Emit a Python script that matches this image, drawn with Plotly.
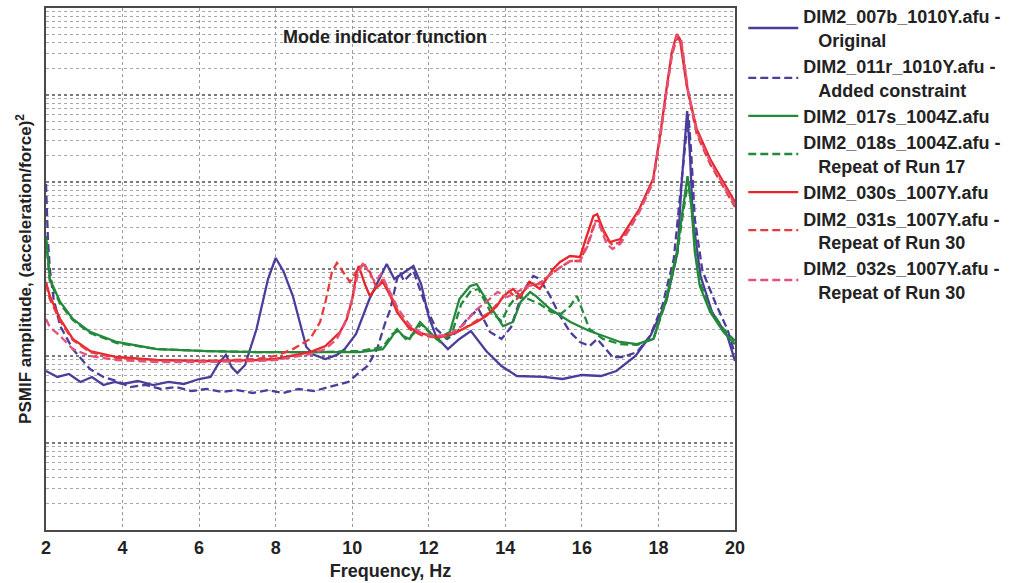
import plotly.graph_objects as go

# Frequency (Hz) and PSMIF amplitude for each run
f_007b = [2.0, 2.3, 2.6, 2.9, 3.2, 3.5, 3.8, 4.0, 4.4, 4.8, 5.2, 5.6, 6.0, 6.3, 6.5, 6.7, 6.85, 7.0, 7.2,
          7.5, 7.8, 8.0, 8.2, 8.45, 8.8, 9.0, 9.3, 9.6, 9.8, 10.1, 10.45, 10.9, 11.1, 11.3, 11.6, 11.8,
          12.0, 12.2, 12.5, 12.8, 13.1, 13.5, 13.9, 14.3, 15.0, 15.5, 16.0, 16.5, 16.9, 17.4, 17.8,
          18.2, 18.5, 18.6, 18.7, 18.75, 18.82, 18.9, 19.1, 19.4, 19.8, 20.0]
a_007b = [0.0672, 0.0574, 0.0621, 0.0503, 0.0574, 0.0464, 0.0503, 0.0477, 0.0516, 0.0464, 0.0503,
          0.0477, 0.0544, 0.0574, 0.0809, 0.103, 0.0747, 0.0637, 0.0788, 0.204, 0.767, 1.338, 0.95,
          0.489, 0.127, 0.103, 0.0924, 0.103, 0.120, 0.179, 0.452, 1.142, 0.767, 0.876, 1.083, 0.672,
          0.281, 0.165, 0.120, 0.157, 0.194, 0.114, 0.0767, 0.0589, 0.0574, 0.0544, 0.0605, 0.0589,
          0.0672, 0.100, 0.174, 0.418, 1.567, 8.99, 33.8, 65.5, 22.1, 3.755, 0.830, 0.320, 0.170, 0.0876]

f_011r = [2.0, 2.05, 2.1, 2.2, 2.37, 2.7, 3.15, 3.5, 3.85, 4.2, 4.6, 5.0, 5.4, 5.8, 6.2, 6.6, 7.0, 7.4,
          7.8, 8.2, 8.6, 9.0, 9.4, 9.9, 10.2, 10.4, 10.65, 10.85, 11.0, 11.17, 11.25, 11.35, 11.6, 11.77,
          11.95, 12.2, 12.48, 12.74, 13.0, 13.3, 13.6, 13.9, 14.15, 14.45, 14.73, 14.9, 15.17, 15.43,
          15.69, 15.95, 16.2, 16.4, 16.55, 16.8, 17.07, 17.44, 17.78, 18.1, 18.4, 18.55, 18.7, 18.78,
          18.85, 18.95, 19.15, 19.5, 19.8, 20.0]
a_011r = [9.48, 2.21, 1.0, 0.452, 0.221, 0.120, 0.0709, 0.0574, 0.0516, 0.0440, 0.0464, 0.0418, 0.0440,
          0.0396, 0.0418, 0.0386, 0.0406, 0.0376, 0.0406, 0.0376, 0.0418, 0.0396, 0.0440, 0.0503, 0.0655,
          0.0767, 0.120, 0.233, 0.347, 0.767, 0.924, 0.728, 0.948, 0.589, 0.347, 0.204, 0.157, 0.189,
          0.266, 0.347, 0.189, 0.157, 0.215, 0.544, 0.830, 0.767, 0.489, 0.288, 0.189, 0.145, 0.130,
          0.157, 0.130, 0.0974, 0.0974, 0.111, 0.170, 0.376, 1.303, 6.37, 27.3, 60.5, 23.9, 3.76, 0.948,
          0.396, 0.204, 0.105]

f_017s = [2.0, 2.1, 2.37, 2.7, 3.15, 3.85, 4.9, 6.2, 7.5, 9.0, 10.2, 10.8, 11.0, 11.17, 11.33, 11.5,
          11.77, 11.95, 12.2, 12.55, 12.8, 13.08, 13.25, 13.6, 13.94, 14.2, 14.4, 14.65, 14.8, 15.17,
          15.7, 16.2, 16.55, 17.0, 17.44, 17.87, 18.22, 18.48, 18.65, 18.76, 18.86, 18.95, 19.08, 19.35,
          19.7, 20.0]
a_017s = [2.394, 0.767, 0.418, 0.266, 0.189, 0.145, 0.120, 0.114, 0.111, 0.111, 0.111, 0.120, 0.157,
          0.204, 0.170, 0.157, 0.246, 0.204, 0.157, 0.189, 0.452, 0.637, 0.672, 0.376, 0.221, 0.246,
          0.418, 0.544, 0.489, 0.347, 0.246, 0.194, 0.170, 0.145, 0.137, 0.157, 0.489, 1.567, 5.30,
          11.7, 5.30, 1.567, 0.637, 0.320, 0.189, 0.137]

f_018s = [2.0, 2.1, 2.37, 2.7, 3.15, 3.85, 4.9, 6.2, 7.5, 9.0, 10.2, 10.8, 11.05, 11.2, 11.4, 11.6, 11.8,
          12.0, 12.3, 12.6, 12.85, 13.1, 13.3, 13.6, 13.9, 14.1, 14.3, 14.6, 14.9, 15.2, 15.45, 15.7,
          15.87, 16.0, 16.2, 16.55, 17.0, 17.44, 17.87, 18.22, 18.48, 18.65, 18.78, 18.88, 18.98, 19.1,
          19.35, 19.7, 20.0]
a_018s = [2.21, 0.728, 0.396, 0.259, 0.184, 0.141, 0.120, 0.114, 0.111, 0.111, 0.114, 0.127, 0.179,
          0.194, 0.157, 0.179, 0.233, 0.189, 0.145, 0.179, 0.396, 0.558, 0.589, 0.329, 0.2525, 0.376,
          0.489, 0.452, 0.396, 0.320, 0.304, 0.376, 0.489, 0.347, 0.204, 0.157, 0.137, 0.134, 0.157,
          0.452, 1.41, 4.64, 10.2, 4.64, 1.41, 0.672, 0.347, 0.204, 0.149]

f_030s = [2.0, 2.1, 2.37, 2.7, 3.15, 3.85, 4.9, 6.2, 7.5, 8.0, 8.9, 9.3, 9.68, 9.86, 10.0, 10.12, 10.17,
          10.33, 10.46, 10.6, 10.8, 11.0, 11.17, 11.45, 11.7, 12.03, 12.3, 12.74, 13.25, 13.5, 13.78,
          13.95, 14.2, 14.4, 14.64, 14.9, 15.25, 15.43, 15.69, 15.95, 16.1, 16.3, 16.4, 16.55, 16.73,
          17.0, 17.25, 17.5, 17.86, 18.04, 18.22, 18.35, 18.48, 18.56, 18.74, 19.0, 19.35, 19.69, 20.0]
a_030s = [0.709, 0.489, 0.266, 0.157, 0.114, 0.0974, 0.0899, 0.0876, 0.0899, 0.0924, 0.111, 0.130,
          0.189, 0.266, 0.452, 0.924, 1.083, 0.672, 0.489, 0.589, 0.709, 0.489, 0.320, 0.221, 0.189,
          0.170, 0.165, 0.189, 0.246, 0.288, 0.376, 0.489, 0.589, 0.489, 0.709, 0.589, 1.0, 1.204,
          1.41, 1.374, 2.21, 4.064, 4.285, 2.882, 2.044, 2.21, 3.289, 4.892, 10.83, 33.8, 126.9, 311.9,
          502.5, 440.0, 126.9, 40.6, 18.4, 10.0, 5.888]

f_031s = [2.0, 2.1, 2.37, 2.7, 3.15, 3.85, 4.9, 6.2, 7.5, 8.0, 8.45, 8.9, 9.16, 9.3, 9.47, 9.6, 9.76,
          9.94, 10.1, 10.28, 10.46, 10.65, 10.8, 11.0, 11.25, 11.5, 11.8, 12.1, 12.5, 12.9, 13.3, 13.6,
          13.9, 14.1, 14.3, 14.6, 14.85, 15.2, 15.45, 15.7, 15.95, 16.15, 16.35, 16.45, 16.65, 16.8,
          17.0, 17.25, 17.5, 17.86, 18.04, 18.22, 18.35, 18.48, 18.6, 18.78, 19.0, 19.35, 19.69, 20.0]
a_031s = [0.672, 0.452, 0.2525, 0.153, 0.111, 0.0948, 0.0876, 0.0876, 0.0924, 0.100, 0.120, 0.157,
          0.246, 0.418, 0.924, 1.172, 0.924, 0.709, 0.924, 1.142, 0.924, 0.589, 0.767, 0.489, 0.288,
          0.204, 0.174, 0.165, 0.170, 0.204, 0.266, 0.320, 0.452, 0.558, 0.452, 0.637, 0.672, 0.876,
          1.054, 1.236, 1.236, 1.939, 3.562, 3.56, 2.21, 1.887, 2.044, 3.039, 4.642, 10.0, 31.2, 117.2,
          280.8, 464.2, 385.7, 102.7, 35.6, 16.1, 8.76, 5.16]

f_032s = [2.0, 2.1, 2.37, 2.7, 3.15, 3.85, 4.9, 6.2, 7.5, 8.0, 8.9, 9.3, 9.6, 9.8, 10.0, 10.15, 10.3,
          10.45, 10.6, 10.75, 10.95, 11.2, 11.5, 11.8, 12.1, 12.5, 12.9, 13.2, 13.5, 13.8, 14.05, 14.3,
          14.6, 14.9, 15.2, 15.45, 15.7, 15.95, 16.15, 16.35, 16.45, 16.65, 16.8, 17.0, 17.25, 17.5,
          17.86, 18.04, 18.22, 18.35, 18.48, 18.6, 18.78, 19.0, 19.35, 19.69, 20.0]
a_032s = [0.266, 0.215, 0.170, 0.120, 0.100, 0.0899, 0.0853, 0.0853, 0.0876, 0.0899, 0.105, 0.120,
          0.157, 0.233, 0.452, 0.876, 1.204, 0.876, 0.709, 0.876, 0.589, 0.347, 0.227, 0.184, 0.170,
          0.174, 0.227, 0.329, 0.418, 0.544, 0.477, 0.544, 0.637, 0.672, 0.876, 1.054, 1.236, 1.236,
          1.838, 3.378, 3.289, 1.939, 1.698, 1.939, 2.882, 4.519, 10.0, 32.9, 123.6, 296.0, 489.0,
          418.0, 108.3, 37.6, 17.0, 9.24, 5.44]

IND = "\u00a0\u00a0\u00a0"
names = [
    "DIM2_007b_1010Y.afu -<br>" + IND + "Original",
    "DIM2_011r_1010Y.afu -<br>" + IND + "Added constraint",
    "DIM2_017s_1004Z.afu",
    "DIM2_018s_1004Z.afu -<br>" + IND + "Repeat of Run 17",
    "DIM2_030s_1007Y.afu",
    "DIM2_031s_1007Y.afu -<br>" + IND + "Repeat of Run 30",
    "DIM2_032s_1007Y.afu -<br>" + IND + "Repeat of Run 30",
]

BLUE = "#4a3d9c"
GREEN = "#24893b"
RED = "#e8252b"
RED2 = "#e8383c"
PINK = "#e2527a"
DASH = "8px,4px"

series = [
    (f_007b, a_007b, BLUE, "solid"),
    (f_011r, a_011r, BLUE, DASH),
    (f_017s, a_017s, GREEN, "solid"),
    (f_018s, a_018s, GREEN, DASH),
    (f_030s, a_030s, RED, "solid"),
    (f_031s, a_031s, RED2, DASH),
    (f_032s, a_032s, PINK, DASH),
]

fig = go.Figure()
for (fx, ay, col, dash), nm in zip(series, names):
    fig.add_trace(go.Scatter(
        x=fx, y=ay, mode="lines", name=nm,
        line=dict(color=col, width=2.3, dash=dash),
    ))

FONT = "Liberation Sans, Arial, Helvetica, sans-serif"
GRID = "#9a9a9a"

fig.update_layout(
    width=1015, height=583,
    margin=dict(l=46, r=280, t=8, b=53, autoexpand=False),
    paper_bgcolor="white", plot_bgcolor="white",
    font=dict(family=FONT, size=18, color="#222"),
    showlegend=True,
    legend=dict(
        x=1.012, y=1.019, xanchor="left", yanchor="top",
        font=dict(family=FONT, size=18, color="#222", weight="bold"),
        bgcolor="rgba(0,0,0,0)", borderwidth=0,
        tracegroupgap=0, itemwidth=50, maxheight=575,
    ),
    xaxis=dict(
        range=[2, 20], tickmode="array", tickvals=list(range(2, 21, 2)),
        ticks="", showgrid=True, gridcolor=GRID, griddash="dot", gridwidth=1,
        showline=True, linecolor="#4a4a4a", linewidth=2, mirror=True,
        tickfont=dict(family=FONT, size=18, weight="bold", color="#222"),
        title=dict(text="Frequency, Hz", standoff=8,
                   font=dict(family=FONT, size=18, weight="bold", color="#222")),
        zeroline=False,
    ),
    yaxis=dict(
        type="log", range=[-3, 3], dtick=1, showticklabels=False, ticks="",
        showgrid=True, gridcolor="#7a7a7a", griddash="dot", gridwidth=1.5,
        minor=dict(showgrid=True, gridcolor="#a8a8a8", griddash="dot", gridwidth=1, dtick="D1"),
        showline=True, linecolor="#4a4a4a", linewidth=2, mirror=True,
        title=dict(text="PSMIF amplitude, (acceleration/force)<sup>2</sup>", standoff=8,
                   font=dict(family=FONT, size=17, weight="bold", color="#222")),
        zeroline=False,
    ),
    annotations=[dict(
        text="Mode indicator function", xref="paper", yref="paper",
        x=0.492, y=0.945, xanchor="center", yanchor="middle", showarrow=False,
        font=dict(family=FONT, size=18, weight="bold", color="#222"),
    )],
)

fig.write_html("out.html")
